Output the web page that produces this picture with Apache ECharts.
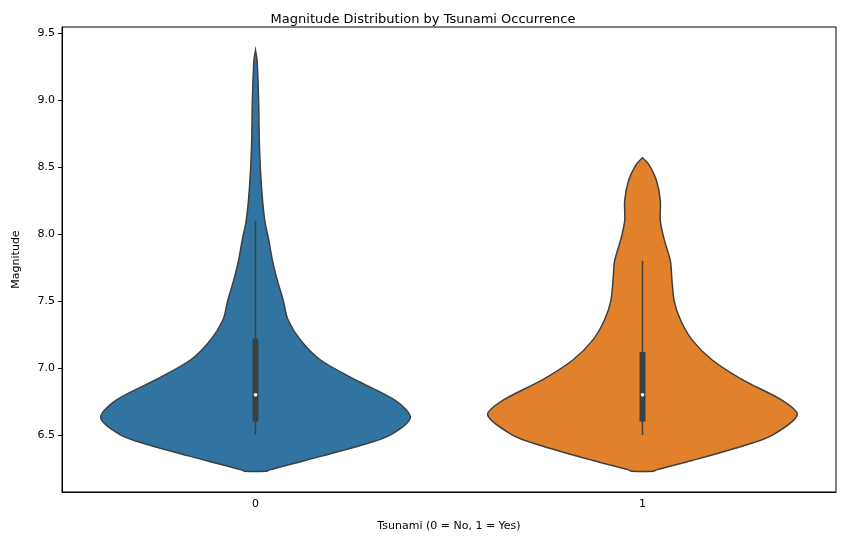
<!DOCTYPE html>
<html>
<head>
<meta charset="utf-8">
<script src="https://cdn.jsdelivr.net/npm/echarts@6/dist/echarts.min.js"></script>
<style>html,body{margin:0;padding:0;background:#fff}#chart{width:846px;height:545px}</style>
</head>
<body>
<div id="chart"></div>
<script>
var categories = ['0', '1'];
var colors = ['#3274a1', '#e1812c'];
var yTicks = [6.5, 7.0, 7.5, 8.0, 8.5, 9.0, 9.5];

// density outline: magnitude levels and relative half-width (1 = widest)
var mag0 = [6.23, 6.24, 6.31, 6.43, 6.5, 6.63, 6.76, 6.91, 7.06, 7.21, 7.36, 7.5, 7.66, 7.8, 7.96, 8.1, 8.33, 8.63, 9.0, 9.3, 9.37];
var width0 = [0.07, 0.09, 0.32, 0.7, 0.87, 1.0, 0.9, 0.65, 0.42, 0.29, 0.21, 0.18, 0.14, 0.11, 0.085, 0.06, 0.04, 0.026, 0.02, 0.01, 0.0];
var mag1 = [6.23, 6.24, 6.31, 6.43, 6.5, 6.65, 6.76, 6.91, 7.06, 7.21, 7.36, 7.5, 7.66, 7.8, 7.96, 8.1, 8.25, 8.4, 8.52, 8.57];
var width1 = [0.07, 0.09, 0.32, 0.68, 0.84, 1.0, 0.9, 0.65, 0.45, 0.32, 0.245, 0.205, 0.19, 0.18, 0.14, 0.115, 0.115, 0.09, 0.04, 0.0];

// box stats: whisker low, q1, median, q3, whisker high
var box0 = [6.5, 6.6, 6.8, 7.22, 8.1];
var box1 = [6.5, 6.6, 6.8, 7.12, 7.8];

var violins = [[mag0, width0, box0], [mag1, width1, box1]];

function renderViolin(params, api) {
  var cat = api.value(0);
  var v = violins[cat];
  var band = api.size([1, 0])[0];
  var cx = api.coord([cat, 0])[0];
  var right = [], left = [];
  for (var i = 0; i < v[0].length; i++) {
    var y = api.coord([cat, v[0][i]])[1];
    var hw = v[1][i] * 0.4 * band;
    right.push([cx + hw, y]);
    left.unshift([cx - hw, y]);
  }
  var pts = right.concat(left);
  var b = v[2];
  var yl = api.coord([cat, b[0]])[1], yq1 = api.coord([cat, b[1]])[1];
  var ym = api.coord([cat, b[2]])[1], yq3 = api.coord([cat, b[3]])[1];
  var yh = api.coord([cat, b[4]])[1];
  return {
    type: 'group',
    children: [
      { type: 'polygon', shape: { points: pts, smooth: 0.3 },
        style: { fill: colors[cat], stroke: '#3f3f3f', lineWidth: 1.5 } },
      { type: 'line', shape: { x1: cx, y1: yl, x2: cx, y2: yh },
        style: { stroke: '#3f3f3f', lineWidth: 1.5 } },
      { type: 'rect', shape: { x: cx - 3, y: yq3, width: 6, height: yq1 - yq3 },
        style: { fill: '#3f3f3f' } },
      { type: 'circle', shape: { cx: cx, cy: ym, r: 1.8 },
        style: { fill: '#fff' } }
    ]
  };
}

var chart = echarts.init(document.getElementById('chart'));
chart.setOption({
  animation: false,
  title: {
    text: 'Magnitude Distribution by Tsunami Occurrence',
    left: 'center', top: 8,
    textStyle: { fontSize: 13, fontWeight: 'normal', color: '#000', fontFamily: 'DejaVu Sans' }
  },
  grid: { left: 62, right: 10, top: 27, bottom: 53, show: true, borderColor: '#000', borderWidth: 1 },
  xAxis: {
    type: 'category', data: categories,
    name: 'Tsunami (0 = No, 1 = Yes)', nameLocation: 'middle', nameGap: 29,
    nameTextStyle: { fontSize: 11, color: '#000', fontFamily: 'DejaVu Sans' },
    axisLine: { lineStyle: { color: '#000' } },
    axisTick: { alignWithLabel: true, length: 4, lineStyle: { color: '#000' } },
    axisLabel: { fontSize: 11, color: '#000', fontFamily: 'DejaVu Sans', margin: 7 },
    splitLine: { show: false }
  },
  yAxis: {
    type: 'value', min: 6.075, max: 9.545,
    name: 'Magnitude', nameLocation: 'middle', nameGap: 40,
    nameTextStyle: { fontSize: 11, color: '#000', fontFamily: 'DejaVu Sans' },
    axisLine: { show: true, lineStyle: { color: '#000' } },
    axisTick: { show: true, length: 4, customValues: yTicks, lineStyle: { color: '#000' } },
    axisLabel: { fontSize: 11, color: '#000', fontFamily: 'DejaVu Sans', margin: 7,
      customValues: yTicks, formatter: function (v) { return v.toFixed(1); } },
    splitLine: { show: false }
  },
  series: [
    { type: 'custom', renderItem: renderViolin, data: [[0]] },
    { type: 'custom', renderItem: renderViolin, data: [[1]] }
  ]
});
</script>
</body>
</html>
